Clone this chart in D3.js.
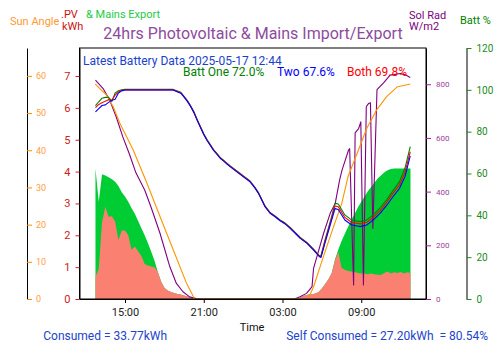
<!DOCTYPE html>
<html>
<head>
<meta charset="utf-8">
<script src="https://cdn.jsdelivr.net/npm/d3@7"></script>
<style>
  body { margin: 0; background: #fff; }
  svg { font-family: Roboto, sans-serif; }
</style>
</head>
<body>
<div id="chart"></div>
<script>
// times are "DD HH:MM" in May 2025

// PV generation (green) and PV self use (salmon), kWh
var pvTimes = [
  "16 12:45","16 13:00","16 13:15","16 13:30","16 13:45","16 14:00","16 14:15","16 14:30","16 14:45","16 15:00",
  "16 15:15","16 15:30","16 15:45","16 16:00","16 16:15","16 16:30","16 16:45","16 17:00","16 17:15","16 17:30",
  "16 17:45","16 18:00","16 18:15","16 18:30","16 18:45","16 19:00","16 19:15","16 19:30","16 19:45","16 20:00","16 20:15",
  "16 20:30",
  "17 04:00","17 04:15","17 04:30","17 04:45","17 05:00","17 05:15","17 05:30","17 05:45","17 06:00","17 06:15","17 06:30","17 06:45",
  "17 07:00","17 07:15","17 07:30","17 07:45","17 08:00","17 08:15","17 08:30","17 08:45","17 09:00","17 09:15","17 09:30","17 09:45",
  "17 10:00","17 10:15","17 10:30","17 10:45","17 11:00","17 11:15","17 11:30","17 11:45","17 12:00","17 12:15","17 12:30","17 12:45"
];
var pvExport = [
  4.10,3.05,3.92,3.88,3.82,3.76,3.68,3.55,3.35,3.22,
  3.05,2.85,2.68,2.45,2.22,2.00,1.75,1.48,1.20,0.85,
  0.55,0.35,0.27,0.22,0.19,0.16,0.14,0.11,0.08,0.04,0.00,
  0,
  0,0.02,0.08,0.12,0.14,0.15,0.17,0.22,0.33,0.47,0.62,0.82,
  1.25,1.55,1.82,2.05,2.27,2.48,2.68,2.88,3.05,3.22,3.38,3.52,
  3.65,3.78,3.88,3.97,4.04,4.08,4.10,4.10,4.10,4.10,4.10,4.10
];
var pvUsed = [
  0.70,0.95,2.40,2.90,2.58,2.60,2.43,1.85,2.15,2.15,
  2.00,1.55,1.65,1.50,1.35,1.10,1.05,1.02,1.00,0.85,
  0.55,0.35,0.27,0.22,0.19,0.16,0.14,0.11,0.08,0.04,0.00,
  0,
  0,0.02,0.08,0.12,0.14,0.15,0.17,0.22,0.33,0.47,0.62,0.82,
  1.22,1.48,0.98,0.92,0.88,0.86,0.85,0.82,0.80,0.80,0.78,0.80,
  0.78,0.76,0.75,0.82,0.86,0.80,0.84,0.82,0.85,0.80,0.84,0.82
];

// sun elevation, degrees
var sunTimes = ["16 12:44","16 13:36","16 14:06","16 14:37","16 15:38","16 16:40","16 17:40","16 18:40","16 19:40","16 20:13","16 20:20",
  "17 04:55","17 04:59","17 05:22","17 06:07","17 06:53","17 07:30","17 08:00","17 08:40","17 09:26","17 10:12","17 10:57","17 11:43","17 12:44"];
var sunAngle = [57.8,54.8,51.7,47.2,40.0,31.2,22.2,13.3,4.4,0.6,0,
  0,0.2,3.3,11.4,19.4,25.5,33.0,39.0,46.0,51.0,54.5,57.0,57.8];

// solar radiation, W/m2
var solTimes = ["16 12:45","16 13:20","16 13:50","16 14:20","16 14:50","16 15:20","16 15:50","16 16:30","16 17:00","16 17:40","16 18:25","16 18:55","16 19:25","16 19:55","16 20:25","16 20:45",
  "17 03:55","17 04:20","17 04:50","17 05:15","17 05:22","17 05:37","17 06:08","17 06:38","17 07:01","17 07:21","17 07:32","17 07:44","17 08:02","17 08:07",
  "17 08:25","17 08:32","17 08:48","17 08:58","17 09:10","17 09:23","17 09:33","17 09:42","17 09:53","17 10:12","17 10:42","17 11:12","17 11:58","17 12:21","17 12:44"];
var solRad = [815,784,741,678,604,540,470,406,340,245,120,58,27,8,2,0,
  0,8,21,46,114,157,245,319,356,443,480,510,555,560,
  52,619,635,660,52,716,728,731,263,780,805,834,840,835,825];

// battery state of charge, %
var battTimes = ["16 12:45","16 13:00","16 13:15","16 13:30","16 13:45","16 14:00","16 14:15","16 14:30","16 14:45","16 15:00","16 18:40",
  "16 19:00","16 19:15","16 19:30","16 19:45","16 20:00","16 20:15","16 20:30","16 20:45","16 21:00","16 21:15","16 21:30","16 21:45",
  "16 22:00","16 22:15","16 22:30","16 22:45","16 23:00","16 23:30","17 00:00","17 00:30","17 00:55","17 01:10","17 01:25","17 01:40",
  "17 02:03","17 02:26","17 02:49","17 03:12","17 03:35","17 04:06","17 04:21","17 04:52","17 05:22","17 05:49","17 05:56",
  "17 06:15","17 06:30","17 06:45","17 07:00","17 07:15","17 07:45","17 08:15","17 08:55","17 09:25","17 09:55","17 10:25",
  "17 10:55","17 11:25","17 11:55","17 12:20","17 12:44"];
var battOne = [92.5,94.3,96.0,96.4,96.4,94.5,98.5,99.6,100.0,100.2,100.2,
  99.4,98.8,96.9,94.9,92.4,89.5,85.8,82.4,79.0,76.2,73.8,71.4,
  69.6,67.7,66.4,65.0,63.7,61.3,58.9,56.6,53.3,50.9,47.7,44.5,
  41.4,39.7,37.8,36.3,34.2,31.0,29.4,27.0,23.8,20.6,20.8,
  28.5,34.0,39.6,45.7,45.4,40.2,37.8,37.0,37.8,40.2,43.4,
  47.3,51.8,56.1,62.6,72.8];
var battTwo = [89.5,91.0,92.5,92.8,94.0,95.0,95.5,98.5,99.5,99.9,99.9,
  99.0,98.4,96.5,94.5,92.0,89.1,85.4,82.0,78.6,75.8,73.4,71.0,
  69.2,67.3,66.0,64.6,63.3,60.9,58.5,56.2,52.9,50.5,47.3,44.1,
  41.0,39.3,37.4,35.9,33.8,30.6,29.0,26.6,23.4,20.2,19.9,
  27.1,32.5,37.8,43.2,42.8,37.8,35.5,34.6,35.4,37.8,40.8,
  44.6,48.9,52.9,58.5,68.4];
var battBoth = [91.5,93.0,93.8,94.6,95.3,95.0,97.5,99.0,99.8,100.0,100.0,
  99.2,98.6,96.7,94.7,92.2,89.3,85.6,82.2,78.8,76.0,73.6,71.2,
  69.4,67.5,66.2,64.8,63.5,61.1,58.7,56.4,53.1,50.7,47.5,44.3,
  41.2,39.5,37.6,36.1,34.0,30.8,29.2,26.8,23.6,20.4,20.3,
  27.8,33.2,38.7,44.5,44.1,39.0,36.7,35.9,36.7,39.0,42.1,
  46.0,50.5,54.6,60.5,70.4];

var xTicks = ["16 15:00","16 21:00","17 03:00","17 09:00"];

var parse = d3.timeParse("%Y-%m-%d %H:%M");
function t(s) { return parse("2025-05-" + s); }

// plot box
var boxL = 79.5, boxR = 426, boxT = 48, boxB = 299;

var svg = d3.select("#chart").append("svg")
  .attr("width", 500)
  .attr("height", 353);

var x = d3.scaleTime()
  .domain([t("16 11:32"), t("17 13:56")])
  .range([boxL, boxR]);
var yKwh = d3.scaleLinear().domain([0, 7.88]).range([boxB, boxT]);
var ySun = d3.scaleLinear().domain([0, 67.5]).range([boxB, boxT]);
var ySol = d3.scaleLinear().domain([0, 935]).range([boxB, boxT]);
var yBatt = d3.scaleLinear().domain([0, 120]).range([boxB, boxT]);

// areas
function area(vals) {
  return d3.area()
    .x(function(d, i) { return x(t(pvTimes[i])); })
    .y0(yKwh(0))
    .y1(function(d) { return yKwh(d); })(vals);
}
svg.append("path").attr("d", area(pvExport)).attr("fill", "#00cc33");
svg.append("path").attr("d", area(pvUsed)).attr("fill", "#fa8072");

function line(times, vals, y) {
  return d3.line()
    .x(function(d, i) { return x(t(times[i])); })
    .y(function(d) { return y(d); })(vals);
}
function drawLine(times, vals, y, col, w) {
  svg.append("path")
    .attr("d", line(times, vals, y))
    .attr("fill", "none")
    .attr("stroke", col)
    .attr("stroke-width", w)
    .attr("stroke-linejoin", "round");
}
drawLine(solTimes, solRad, ySol, "#800080", 1.1);
drawLine(sunTimes, sunAngle, ySun, "#ff9500", 1.1);
drawLine(battTimes, battOne, yBatt, "#008000", 1.1);
drawLine(battTimes, battBoth, yBatt, "#ff0000", 1.1);
drawLine(battTimes, battTwo, yBatt, "#0000ff", 1.1);

// frame
svg.append("rect")
  .attr("x", boxL).attr("y", boxT)
  .attr("width", boxR - boxL).attr("height", boxB - boxT)
  .attr("fill", "none").attr("stroke", "#000");

// axes
function style(g, col, txtCol, size) {
  g.select(".domain").attr("stroke", "#000");
  g.selectAll(".tick line").attr("stroke", col);
  g.selectAll(".tick text").attr("fill", txtCol).style("font-size", size + "px").style("font-family", "Roboto, sans-serif");
}

var gx = svg.append("g")
  .attr("transform", "translate(0," + boxB + ")")
  .call(d3.axisBottom(x).tickValues(xTicks.map(t)).tickFormat(d3.timeFormat("%H:%M")).tickSize(4).tickSizeOuter(0).tickPadding(5));
style(gx, "#000", "#222", 11);

var gk = svg.append("g")
  .attr("transform", "translate(" + boxL + ",0)")
  .call(d3.axisLeft(yKwh).ticks(7).tickSize(4).tickSizeOuter(0).tickPadding(5));
style(gk, "#cc2222", "#cc2222", 11);

var gs = svg.append("g")
  .attr("transform", "translate(27,0)")
  .call(d3.axisRight(ySun).tickValues([0,10,20,30,40,50,60]).tickSize(5).tickSizeOuter(0).tickPadding(4));
style(gs, "#ff8c00", "#ffa040", 9);

var gr = svg.append("g")
  .attr("transform", "translate(" + boxR + ",0)")
  .call(d3.axisRight(ySol).tickValues([0,200,400,600,800]).tickSize(5).tickSizeOuter(0).tickPadding(5));
style(gr, "#a020a0", "#a040a0", 8);

var gb = svg.append("g")
  .attr("transform", "translate(466.5,0)")
  .call(d3.axisRight(yBatt).tickValues([0,20,40,60,80,100,120]).tickSize(5).tickSizeOuter(0).tickPadding(5));
style(gb, "#228b22", "#228b22", 10);

// texts
function label(txt, x0, y0, col, size, anchor) {
  svg.append("text")
    .attr("x", x0).attr("y", y0)
    .attr("fill", col)
    .style("font-size", size + "px")
    .style("text-anchor", anchor || "start")
    .style("white-space", "pre")
    .text(txt);
}
label("24hrs Photovoltaic & Mains Import/Export", 253, 39, "#8e4b9e", 16, "middle");
label("Sun Angle", 10, 25, "#ff9933", 11);
label(".PV", 61, 18, "#cc1111", 11);
label("kWh", 62, 30, "#cc1111", 11);
label("& Mains Export", 86, 18, "#22cc44", 11);
label("Sol Rad", 409, 19, "#800080", 11);
label("W/m2", 409, 30, "#800080", 11);
label("Batt %", 460, 24, "#008000", 11);

label("Latest Battery Data 2025-05-17 12:44", 83, 65, "#1a3fcc", 12);
label("Batt One 72.0%", 183, 76, "#008000", 12);
label("Two 67.6%", 277, 76, "#0000ff", 12);
label("Both 69.8%", 347, 76, "#ff0000", 12);

label("Time", 252, 331, "#111", 11, "middle");
label("Consumed = 33.77kWh", 167, 340, "#2244cc", 12, "end");
label("Self Consumed = 27.20kWh  = 80.54%", 488, 340, "#2244cc", 12, "end");
</script>
</body>
</html>
